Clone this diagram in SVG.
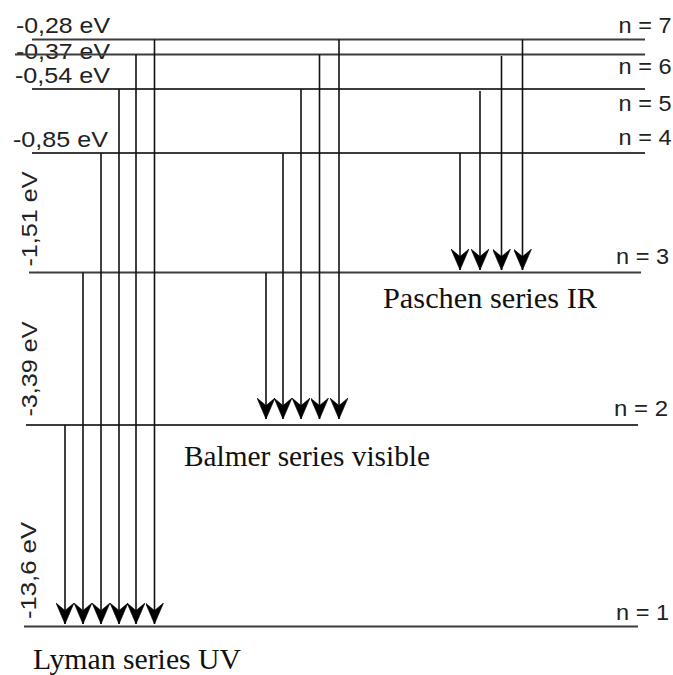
<svg xmlns="http://www.w3.org/2000/svg" width="673" height="675" viewBox="0 0 673 675">
<style>
.lvl{stroke:#3c3c3c;stroke-width:2.2;fill:none}
.tr{stroke:#111;stroke-width:1.6;fill:none;marker-end:url(#ah)}
.s{font-family:"Liberation Sans",Arial,sans-serif;font-size:22.5px;fill:#222}
.t{font-family:"Liberation Serif","Times New Roman",serif;font-size:30px;fill:#111}
</style>
<defs>
<marker id="ah" markerUnits="userSpaceOnUse" viewBox="0 -9 22 18" refX="21" refY="0" markerWidth="22" markerHeight="18" orient="auto">
<path d="M0,-9 L21,0 L0,9 L7.5,0 Z" fill="#000" stroke="#000" stroke-width="0.6" stroke-linejoin="round"/>
</marker>
</defs>
<rect width="673" height="675" fill="#fff"/>
<g id="level-7">
<line class="lvl" x1="32" y1="39.5" x2="645" y2="39.5"/>
<text class="s" x="16" y="33" textLength="94" lengthAdjust="spacingAndGlyphs">-0,28 eV</text>
<text class="s" x="618.5" y="33" textLength="53" lengthAdjust="spacingAndGlyphs">n = 7</text>
</g>
<g id="level-6">
<text class="s" x="16" y="58.5" textLength="94" lengthAdjust="spacingAndGlyphs">-0,37 eV</text>
<line class="lvl" x1="15" y1="54.5" x2="645" y2="54.5"/>
<text class="s" x="618.5" y="73.5" textLength="53" lengthAdjust="spacingAndGlyphs">n = 6</text>
</g>
<g id="level-5">
<line class="lvl" x1="32" y1="89" x2="645" y2="89"/>
<text class="s" x="15" y="82.5" textLength="95" lengthAdjust="spacingAndGlyphs">-0,54 eV</text>
<text class="s" x="618.5" y="111" textLength="53" lengthAdjust="spacingAndGlyphs">n = 5</text>
</g>
<g id="level-4">
<line class="lvl" x1="32" y1="153" x2="645" y2="153"/>
<text class="s" x="13" y="147" textLength="95" lengthAdjust="spacingAndGlyphs">-0,85 eV</text>
<text class="s" x="618.5" y="145" textLength="53" lengthAdjust="spacingAndGlyphs">n = 4</text>
</g>
<g id="level-3">
<line class="lvl" x1="29" y1="272.5" x2="641" y2="272.5"/>
<text class="s" transform="translate(37,219) rotate(-90)" text-anchor="middle" textLength="95" lengthAdjust="spacingAndGlyphs">-1,51 eV</text>
<text class="s" x="616" y="263.5" textLength="53" lengthAdjust="spacingAndGlyphs">n = 3</text>
</g>
<g id="level-2">
<line class="lvl" x1="26" y1="425" x2="638" y2="425"/>
<text class="s" transform="translate(37,369) rotate(-90)" text-anchor="middle" textLength="95" lengthAdjust="spacingAndGlyphs">-3,39 eV</text>
<text class="s" x="614" y="416" textLength="54" lengthAdjust="spacingAndGlyphs">n = 2</text>
</g>
<g id="level-1">
<line class="lvl" x1="24" y1="626.5" x2="638" y2="626.5"/>
<text class="s" transform="translate(36,570.5) rotate(-90)" text-anchor="middle" textLength="97" lengthAdjust="spacingAndGlyphs">-13,6 eV</text>
<text class="s" x="616" y="620" textLength="53" lengthAdjust="spacingAndGlyphs">n = 1</text>
</g>
<g id="series-labels">
<text class="t" x="383" y="308" textLength="214" lengthAdjust="spacingAndGlyphs">Paschen series IR</text>
<text class="t" x="184" y="466" textLength="246" lengthAdjust="spacingAndGlyphs">Balmer series visible</text>
<text class="t" x="33" y="669" textLength="208" lengthAdjust="spacingAndGlyphs">Lyman series UV</text>
</g>
<g id="connectors">
<line class="tr" x1="65" y1="425" x2="65" y2="624"/>
<line class="tr" x1="83" y1="272.5" x2="83" y2="624"/>
<line class="tr" x1="101" y1="153" x2="101" y2="624"/>
<line class="tr" x1="119" y1="89" x2="119" y2="624"/>
<line class="tr" x1="136" y1="54.5" x2="136" y2="624"/>
<line class="tr" x1="154.5" y1="39.5" x2="154.5" y2="624"/>
<line class="tr" x1="266" y1="272.5" x2="266" y2="419"/>
<line class="tr" x1="283" y1="153" x2="283" y2="419"/>
<line class="tr" x1="301" y1="89" x2="301" y2="419"/>
<line class="tr" x1="319.5" y1="54.5" x2="319.5" y2="419"/>
<line class="tr" x1="339" y1="39.5" x2="339" y2="419"/>
<line class="tr" x1="460" y1="153" x2="460" y2="270"/>
<line class="tr" x1="480" y1="91" x2="480" y2="270"/>
<line class="tr" x1="501.5" y1="56" x2="501.5" y2="270"/>
<line class="tr" x1="522.5" y1="39.5" x2="522.5" y2="270"/>
</g>
</svg>
